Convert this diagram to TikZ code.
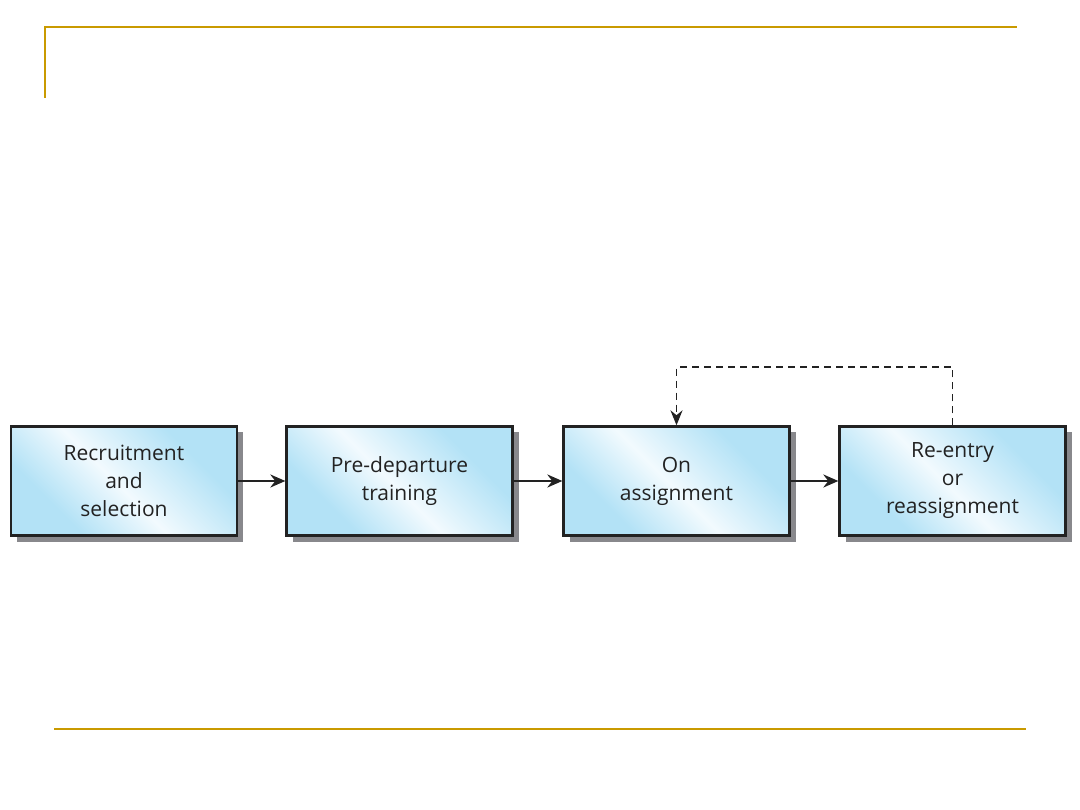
\documentclass[tikz,border=0pt]{standalone}
\usepackage{fontspec}
\setmainfont{Open Sans}
\usetikzlibrary{arrows.meta,shadows}
\definecolor{gold}{HTML}{C99A00}
\definecolor{boxblue}{HTML}{B3E2F6}
\definecolor{boxwhite}{HTML}{F2FAFE}
\definecolor{ink}{HTML}{222222}
\definecolor{shadowgray}{HTML}{88888C}
\pgfdeclarehorizontalshading{stripe}{100bp}{color(0bp)=(boxblue); color(30bp)=(boxblue); color(48bp)=(boxwhite); color(70bp)=(boxblue); color(100bp)=(boxblue)}
\tikzset{
  stage/.style={draw=ink, line width=2.3pt, minimum width=226pt, minimum height=109pt,
    shading=stripe, shading angle=45, align=center, font=\fontsize{21}{28}\selectfont,
    text=ink, drop shadow={shadow xshift=6pt, shadow yshift=-6pt, fill=shadowgray, opacity=1}},
  flow/.style={draw=ink, line width=2.2pt, -{Stealth[length=15pt,width=13pt]}},
  back/.style={draw=ink, line width=1.8pt, dash pattern=on 7pt off 5pt, -{Stealth[length=15pt,width=12pt]}},
  rule/.style={draw=gold, line width=2.4pt}
}
\begin{document}
\begin{tikzpicture}[x=1pt,y=-1pt]
\useasboundingbox (0,0) rectangle (1080,810);
\draw[rule] (45,98) -- (45,27) -- (1017,27);
\draw[rule] (54,729) -- (1026,729);
\node[stage] (a) at (124,481) {Recruitment\\and\\selection};
\node[stage] (b) at (399.5,481) {Pre-departure\\training};
\node[stage] (c) at (676.5,481) {On\\assignment};
\node[stage] (d) at (952.5,481) {Re-entry\\or\\reassignment};
\draw[flow] (a) -- (b);
\draw[flow] (b) -- (c);
\draw[flow] (c) -- (d);
\coordinate (t1) at (952.5,367);
\coordinate (t2) at (676.5,367);
\draw[back] (d.north) -- (t1) -- (t2) -- (c.north);
\end{tikzpicture}
\end{document}
